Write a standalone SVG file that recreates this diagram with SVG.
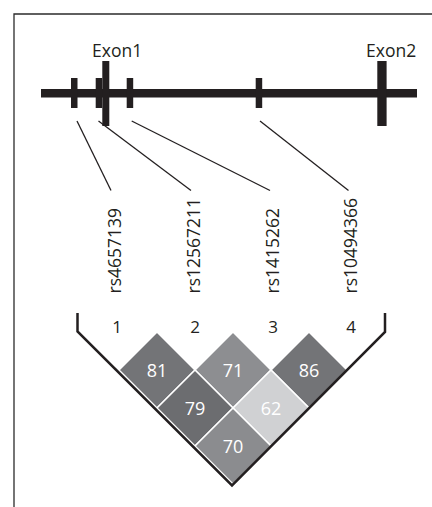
<svg xmlns="http://www.w3.org/2000/svg" width="432" height="507" viewBox="0 0 432 507">
<style>
.bar{fill:#231f20}
.con{stroke:#231f20;stroke-width:1.3;fill:none}
.lbl{font-family:"Open Sans","Liberation Sans",sans-serif;fill:#231f20}
.ex{font-size:17.5px}
.rs{font-size:17.5px}
.idx{font-size:17px;text-anchor:middle}
.cell{stroke:#ffffff;stroke-width:1.5}
.val{font-family:"Open Sans","Liberation Sans",sans-serif;font-size:18px;fill:#ffffff;text-anchor:middle}
</style>
<rect width="432" height="507" fill="#ffffff"/>
<path d="M14,507 V14 H432" fill="none" stroke="#2b2b2b" stroke-width="1.3"/>
<g id="gene">
<rect class="bar" x="41" y="89" width="376" height="8.5"/>
<rect class="bar" x="71" y="78" width="6.5" height="30"/>
<rect class="bar" x="95.7" y="78" width="6.5" height="30"/>
<rect class="bar" x="102.3" y="61" width="7" height="65"/>
<rect class="bar" x="126.7" y="78" width="6.5" height="30"/>
<rect class="bar" x="255.7" y="78" width="6.5" height="30"/>
<rect class="bar" x="377.3" y="61" width="9.3" height="65"/>
<text class="lbl ex" x="92" y="57">Exon1</text>
<text class="lbl ex" x="366" y="57">Exon2</text>
</g>
<g id="connectors">
<line class="con" x1="77" y1="121" x2="111" y2="190.5"/>
<line class="con" x1="98.5" y1="121" x2="191" y2="190.5"/>
<line class="con" x1="131.7" y1="121" x2="270" y2="190.5"/>
<line class="con" x1="260" y1="121" x2="348.5" y2="190.5"/>
</g>
<g id="snp-labels">
<text class="lbl rs" transform="translate(120.5,293.5) rotate(-90)">rs4657139</text>
<text class="lbl rs" transform="translate(199.5,293.5) rotate(-90)">rs12567211</text>
<text class="lbl rs" transform="translate(278.5,293.5) rotate(-90)">rs1415262</text>
<text class="lbl rs" transform="translate(357,293.5) rotate(-90)">rs10494366</text>
</g>
<g id="indices">
<text class="lbl idx" x="117" y="333">1</text>
<text class="lbl idx" x="195" y="333">2</text>
<text class="lbl idx" x="273" y="333">3</text>
<text class="lbl idx" x="351" y="333">4</text>
</g>
<g id="ld-matrix">
<g id="cell-81"><path class="cell" fill="#737477" d="M157,332 L195,370 L157,408 L119,370 Z"/><text class="val" x="157" y="376.5">81</text></g>
<g id="cell-71"><path class="cell" fill="#8d8e91" d="M233,332 L271,370 L233,408 L195,370 Z"/><text class="val" x="233" y="376.5">71</text></g>
<g id="cell-86"><path class="cell" fill="#737477" d="M309,332 L347,370 L309,408 L271,370 Z"/><text class="val" x="309" y="376.5">86</text></g>
<g id="cell-79"><path class="cell" fill="#6c6d70" d="M195,370 L233,408 L195,446 L157,408 Z"/><text class="val" x="195" y="414.5">79</text></g>
<g id="cell-62"><path class="cell" fill="#d0d1d3" d="M271,370 L309,408 L271,446 L233,408 Z"/><text class="val" x="271" y="414.5">62</text></g>
<g id="cell-70"><path class="cell" fill="#8b8c8f" d="M233,408 L271,446 L233,484 L195,446 Z"/><text class="val" x="233" y="452.5">70</text></g>
</g>
<path id="bracket" d="M77.5,313 V331.5 L232,485.5 L385,332 V313" fill="none" stroke="#231f20" stroke-width="2.5"/>
</svg>
